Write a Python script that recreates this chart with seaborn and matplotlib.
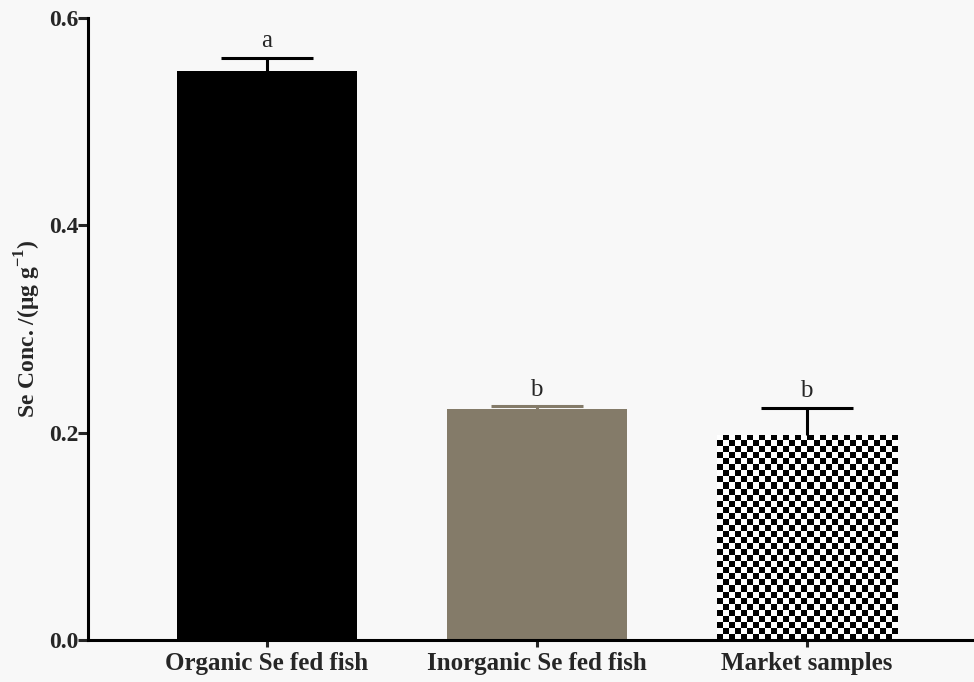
import numpy as np
import pandas as pd
import matplotlib
matplotlib.use('Agg')
import matplotlib.pyplot as plt
import seaborn as sns

# Data
groups = ['Organic Se fed fish', 'Inorganic Se fed fish', 'Market samples']
se_conc = [0.549, 0.2225, 0.198]
se_err = [0.0125, 0.003, 0.0262]
letters = ['a', 'b', 'b']
bar_colors = ['#000000', '#847b69', '#ffffff']
err_colors = ['#000000', '#847b69', '#000000']

df = pd.DataFrame({'group': groups, 'conc': se_conc})

sns.set_style('ticks')
plt.rcParams['font.family'] = ['Liberation Serif', 'DejaVu Serif']
plt.rcParams['mathtext.fontset'] = 'custom'
plt.rcParams['mathtext.rm'] = 'Liberation Serif:bold'
plt.rcParams['mathtext.bf'] = 'Liberation Serif:bold'

bg = '#f8f8f8'
fig = plt.figure(figsize=(9.74, 6.82), dpi=100, facecolor=bg)
ax = fig.add_axes([0.0903, 0.0616, 0.9097, 0.912])
ax.set_facecolor(bg)

sns.barplot(data=df, x='group', y='conc', hue='group', palette=bar_colors,
            width=0.667, saturation=1, legend=False, ax=ax, linewidth=0)

# one-sided (upper) error bars
for i, (m, e) in enumerate(zip(se_conc, se_err)):
    eb = ax.errorbar(i, m, yerr=[[0], [e]], fmt='none', ecolor=err_colors[i],
                     elinewidth=2.2, capsize=33, capthick=2.2, zorder=3)
    eb[1][0].set_visible(False)  # hide the lower cap
    ax.annotate(letters[i], (i, m + e), xytext=(0, 4), textcoords='offset points',
                ha='center', va='bottom', fontsize=18)

ax.set_xlim(-0.663, 2.62)
ax.set_ylim(0, 0.6)
ax.set_yticks([0.0, 0.2, 0.4, 0.6])
ax.set_yticklabels(['0.0', '0.2', '0.4', '0.6'])

# checkerboard fill for the market samples bar
fig.canvas.draw()
patch = ax.patches[2]
bb = patch.get_bbox()
disp = ax.transData.transform([[bb.x0, bb.y0], [bb.x1, bb.y1]])
w_px = disp[1, 0] - disp[0, 0]
h_px = disp[1, 1] - disp[0, 1]
cell = 6.0
nc = int(round(w_px / cell))
nr = int(round(h_px / cell))
board = (np.indices((nr, nc)).sum(axis=0) % 2).astype(float)
im = ax.imshow(board, cmap='gray', extent=[bb.x0, bb.x1, bb.y0, bb.y1],
               aspect='auto', interpolation='nearest', zorder=2, origin='lower')
im.set_clip_path(patch)

for s in ['top', 'right']:
    ax.spines[s].set_visible(False)
for s in ['left', 'bottom']:
    ax.spines[s].set_linewidth(2.2)
    ax.spines[s].set_color('black')

ax.tick_params(axis='y', length=7, width=2.2, labelsize=17, pad=0)
ax.tick_params(axis='x', length=5, width=2.2, labelsize=18, pad=4)
for lab in ax.get_xticklabels() + ax.get_yticklabels():
    lab.set_fontweight('bold')

ax.set_xlabel('')
ax.set_ylabel(r'Se Conc. /($\mathbf{\mu}$g g$^{-1}$)', fontsize=17,
              fontweight='bold', labelpad=4)

fig.savefig('out.png', dpi=100, facecolor=bg)
